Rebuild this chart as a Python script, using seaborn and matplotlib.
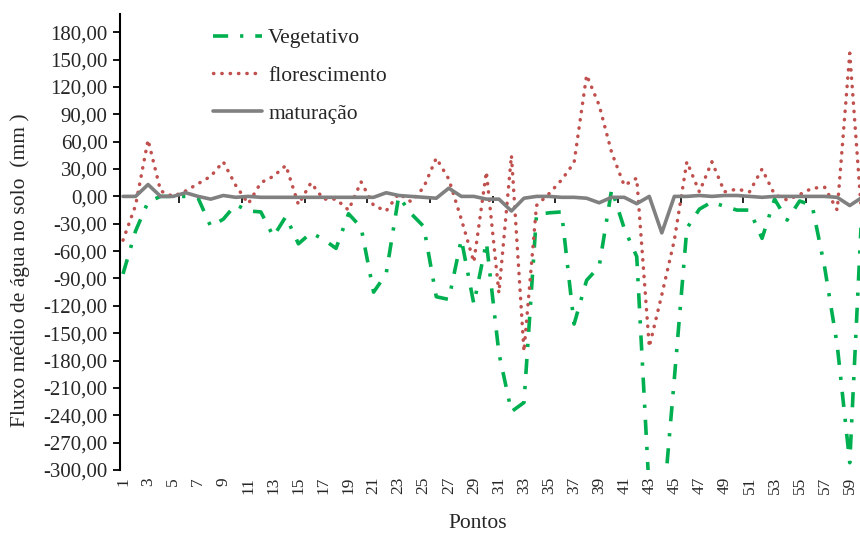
import numpy as np
import pandas as pd
import seaborn as sns
import matplotlib
matplotlib.use("Agg")
import matplotlib.pyplot as plt
from matplotlib.ticker import FuncFormatter, FixedLocator

# ---------------- data ----------------
pontos = list(range(1, 61))
vegetativo = [-85, -38, -6, 0, 0, 0, -2, -33, -25, -9,
              -16, -17, -44, -22, -52, -40, -47, -57, -19, -34,
              -105, -85, 0, -19, -33, -110, -113, -47, -118, -50,
              -172, -236, -226, -20, -18, -17, -140, -92, -77, 8,
              -35, -66, -325, -360, -200, -35, -14, -6, -11, -15,
              -15, -46, -3, -26, -5, -10, -78, -163, -292, -5]
florescimento = [-48, -10, 62, 6, 0, 6, 14, 22, 38, 12,
                 -8, 15, 22, 34, -9, 15, -3, -3, -15, 16,
                 -10, -16, 3, -6, 10, 42, 19, -25, -72, 27,
                 -106, 45, -170, -10, 3, 18, 37, 133, 100, 48,
                 12, 20, -165, -108, -48, 38, 5, 38, 5, 8,
                 5, 30, 2, -4, 2, 9, 10, -15, 157, -30]
maturacao = [0, 0, 13, 0, 0, 4, 0, -3, 1, -1,
             0, -1, -1, -1, -1, -1, -1, -1, -1, -1,
             -1, 4, 1, 0, -1, -2, 9, 0, 0, -3,
             -3, -16, -2, 0, 0, -1, -1, -2, -7, -1,
             -1, -8, 0, -40, 0, 0, 1, 0, 1, 1,
             0, -1, 0, 0, 0, 0, 0, -1, -10, -1]
series_names = ["Vegetativo", "florescimento", "maturação"]
xtick_labels = [str(i) for i in range(1, 60, 2)]
yticks = list(range(-300, 181, 30))

# ---------------- style ----------------
sns.set_style("white")
plt.rcParams['font.family'] = ['Liberation Serif', 'DejaVu Serif']
plt.rcParams['axes.unicode_minus'] = False

W, H = 860, 535
fig = plt.figure(figsize=(W / 100, H / 100), dpi=100)
left_px, top_px, bottom_px = 120, 14, 470
xmin, xmax = 0.76, 60.5
px_per_unit = 12.53
width_px = (xmax - xmin) * px_per_unit
height_px = bottom_px - top_px
ax = fig.add_axes([left_px / W, (H - bottom_px) / H,
                   width_px / W, height_px / H])

df = pd.DataFrame({"Pontos": pontos,
                   series_names[0]: vegetativo,
                   series_names[1]: florescimento,
                   series_names[2]: maturacao})

green = "#00B050"
red = "#C0504D"
gray = "#808080"

# Vegetativo: long dash - dot
sns.lineplot(data=df, x="Pontos", y=series_names[0], ax=ax, color=green,
             lw=2.6, label=series_names[0], zorder=3)
l = ax.lines[-1]
l.set_dashes((4.2, 3.3, 0.9, 3.3))
l.set_dash_capstyle('butt')

# florescimento: round dots
sns.lineplot(data=df, x="Pontos", y=series_names[1], ax=ax, color=red,
             lw=2.5, label=series_names[1], zorder=4)
l = ax.lines[-1]
l.set_dashes((0.1, 2.3))
l.set_dash_capstyle('round')

# maturação: solid gray
sns.lineplot(data=df, x="Pontos", y=series_names[2], ax=ax, color=gray,
             lw=2.6, label=series_names[2], zorder=5)

ax.set_xlim(xmin, xmax)
ax.set_ylim(-300, 200)

# y axis
ax.yaxis.set_major_locator(FixedLocator(yticks))
ax.yaxis.set_major_formatter(FuncFormatter(lambda v, p: f"{v:.2f}".replace('.', ',')))
ax.tick_params(axis='y', which='major', direction='out', length=5, width=1.3,
               color='black', labelsize=15, pad=4, left=True)

# x tick labels at the bottom, no marks
ax.set_xticks(list(range(1, 60, 2)))
ax.set_xticklabels(xtick_labels, rotation=90)
ax.tick_params(axis='x', which='major', length=0, labelsize=12.5, pad=5)

for s in ['top', 'right', 'bottom']:
    ax.spines[s].set_visible(False)
ax.spines['left'].set_color('black')
ax.spines['left'].set_linewidth(1.5)

# zero line acting as the category axis, with small tick marks
zero_frac = (0 - (-300)) / (200 - (-300))
sec = ax.secondary_xaxis(zero_frac)
sec.set_xticks(np.arange(5.5, 60, 5))
sec.tick_params(axis='x', direction='out', length=5, width=1.2, color='black',
                labelbottom=False, labeltop=False, top=False, bottom=True)
sec.spines['bottom'].set_color('black')
sec.spines['bottom'].set_linewidth(1.5)
for s in ['top', 'left', 'right']:
    if s in sec.spines:
        sec.spines[s].set_visible(False)
sec.set_zorder(2)

ax.set_ylabel("Fluxo médio de água no solo  (mm )", fontsize=15.5)
ax.yaxis.set_label_coords(-(120 - 20) / width_px, (bottom_px - 270) / height_px)
ax.yaxis.label.set_va('center')
ax.set_xlabel("Pontos", fontsize=15.5)
ax.xaxis.set_label_coords((478 - left_px) / width_px, -(523 - bottom_px) / height_px)
ax.xaxis.label.set_va('center')

leg = ax.legend(loc='upper left', frameon=False, fontsize=15.5,
                bbox_to_anchor=((213 - left_px) / width_px, 1 - (28 - top_px) / height_px),
                handlelength=2.28, handletextpad=0.28, labelspacing=0.82, borderpad=0,
                borderaxespad=0)

fig.savefig("out.png", dpi=100)
